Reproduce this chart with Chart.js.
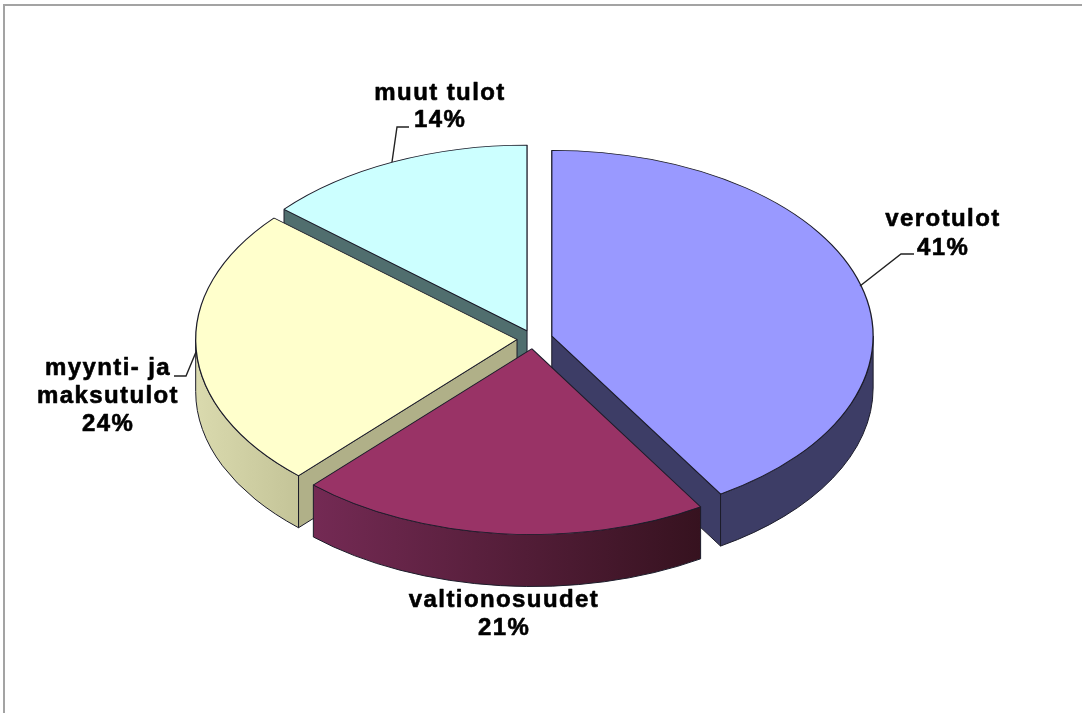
<!DOCTYPE html>
<html>
<head>
<meta charset="utf-8">
<title>Tulot</title>
<script src="https://cdn.jsdelivr.net/npm/chart.js@4/dist/chart.umd.min.js"></script>
<style>
    html, body { margin: 0; padding: 0; background: #fff; overflow: hidden; }
    #kehys { position: absolute; left: 3px; top: 4px; width: 1079px; height: 709px; border-left: 2px solid #a3a3a3; border-top: 2px solid #a3a3a3; box-sizing: border-box; }
    #kaavio { position: absolute; left: 0; top: 0; }
</style>
</head>
<body>
<div id="kehys"></div>
<canvas id="kaavio" width="1082" height="713"></canvas>
<script>
    // Data
    const categories = ['verotulot', 'valtionosuudet', 'myynti- ja maksutulot', 'muut tulot'];
    const shares = [41.2, 20.7, 24.45, 13.65];

    // Ulkoasu
    const topColors = ['#9999FF', '#993366', '#FFFFCC', '#CCFFFF'];
    const faceColors = ['#3D3D66', '#5A1C3C', '#B0B088', '#506E6E'];
    const wallStops = [['#3D3D66', '#3D3D66'], ['#742A54', '#36121F'], ['#DADAAE', '#C4C498'], ['#506E6E', '#506E6E']];
    const labelLines = [['verotulot'], ['valtionosuudet'], ['myynti- ja', 'maksutulot'], ['muut tulot']];
    const labelSpots = [[943, 226, 29], [504, 607, 28], [108, 375, 28], [440, 100, 27]];
    const leaders = [
        [[860, 286], [901, 254], [914, 254]],
        [],
        [[196, 352], [186, 376], [174, 376]],
        [[392, 162], [397, 127], [409, 127]]
    ];
    const SQUASH = 0.578;
    const DEPTH = 52;
    const EXPLODE = [19, 17, 16.5, 15.5];
    const DRAW_ORDER = [3, 0, 2, 1];

    // ================== 3D ==================
    const pie3d = {
        id: 'pie3d',
        beforeDatasetsDraw(chart) {
            const ctx = chart.ctx;
            const arcs = chart.getDatasetMeta(0).data;
            DRAW_ORDER.forEach(i => {
                const arc = arcs[i];
                const mid = (arc.startAngle + arc.endAngle) / 2;
                const cx = arc.x + Math.cos(mid) * EXPLODE[i];
                const cy = arc.y + Math.sin(mid) * EXPLODE[i] * SQUASH;
                const rx = arc.outerRadius;
                const ry = rx * SQUASH;

                ctx.save();
                ctx.lineWidth = 1;
                ctx.lineJoin = 'round';
                ctx.strokeStyle = '#1c1c2a';

                // leikkauspinnat
                [[arc.startAngle, Math.cos(arc.startAngle) < -0.01], [arc.endAngle, Math.cos(arc.endAngle) > 0.01]].forEach(([a, visible]) => {
                    if (!visible) return;
                    const ex = cx + Math.cos(a) * rx;
                    const ey = cy + Math.sin(a) * ry;
                    ctx.beginPath();
                    ctx.moveTo(cx, cy);
                    ctx.lineTo(ex, ey);
                    ctx.lineTo(ex, ey + DEPTH);
                    ctx.lineTo(cx, cy + DEPTH);
                    ctx.closePath();
                    ctx.fillStyle = faceColors[i];
                    ctx.fill();
                    ctx.stroke();
                });

                // ulkoreuna
                const a1 = Math.max(arc.startAngle, 0);
                const a2 = Math.min(arc.endAngle, Math.PI);
                if (a2 > a1) {
                    const x1 = cx + Math.cos(a2) * rx;
                    const x2 = cx + Math.cos(a1) * rx;
                    const grad = ctx.createLinearGradient(x1, 0, x2, 0);
                    grad.addColorStop(0, wallStops[i][0]);
                    grad.addColorStop(1, wallStops[i][1]);
                    ctx.beginPath();
                    ctx.ellipse(cx, cy, rx, ry, 0, a1, a2);
                    ctx.ellipse(cx, cy + DEPTH, rx, ry, 0, a2, a1, true);
                    ctx.closePath();
                    ctx.fillStyle = grad;
                    ctx.fill();
                    ctx.stroke();
                }
                ctx.restore();

                // yläpinta: kirjaston oma kaari litistettynä
                ctx.save();
                ctx.translate(cx, cy);
                ctx.scale(1, SQUASH);
                ctx.translate(-arc.x, -arc.y);
                arc.draw(ctx);
                ctx.restore();
            });
            return false;
        },
        afterDraw(chart) {
            const ctx = chart.ctx;
            ctx.save();
            ctx.strokeStyle = '#222';
            ctx.lineWidth = 1.4;
            leaders.forEach(points => {
                if (!points.length) return;
                ctx.beginPath();
                points.forEach(([x, y], n) => n ? ctx.lineTo(x, y) : ctx.moveTo(x, y));
                ctx.stroke();
            });
            ctx.fillStyle = '#000';
            ctx.strokeStyle = '#000';
            ctx.lineWidth = 0.6;
            ctx.lineJoin = 'round';
            ctx.font = 'bold 24px "Liberation Sans", Arial, sans-serif';
            ctx.letterSpacing = '1.4px';
            ctx.textAlign = 'center';
            ctx.textBaseline = 'alphabetic';
            categories.forEach((name, i) => {
                const [x, y, step] = labelSpots[i];
                const lines = [...labelLines[i], Math.round(shares[i]) + '%'];
                lines.forEach((line, n) => {
                    ctx.fillText(line, x, y + n * step);
                    ctx.strokeText(line, x, y + n * step);
                });
            });
            ctx.restore();
        }
    };

    // ================== GRÁFICO ==================
    new Chart(document.getElementById('kaavio'), {
        type: 'pie',
        data: {
            labels: categories,
            datasets: [{
                data: shares,
                backgroundColor: topColors,
                borderColor: '#1c1c2a',
                borderWidth: 1.3
            }]
        },
        options: {
            responsive: false,
            animation: false,
            layout: { padding: { top: 17, bottom: 52, left: 0, right: 15 } },
            plugins: { legend: { display: false }, tooltip: { enabled: false }, title: { display: false } }
        },
        plugins: [pie3d]
    });
</script>
</body>
</html>
